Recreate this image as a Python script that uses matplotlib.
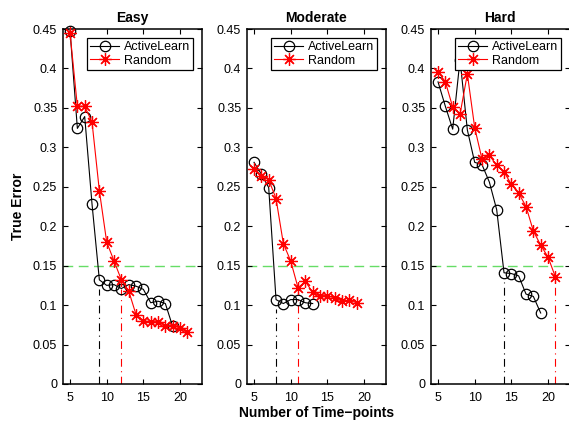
import matplotlib
matplotlib.use("Agg")
import matplotlib.pyplot as plt
import numpy as np

plt.rcParams['font.family'] = ['Liberation Sans', 'DejaVu Sans']

titles = ["Easy", "Moderate", "Hard"]

easy_active_x = [5, 6, 7, 8, 9, 10, 11, 12, 13, 14, 15, 16, 17, 18, 19]
easy_active_y = [0.448, 0.324, 0.339, 0.228, 0.132, 0.125, 0.126, 0.121, 0.126, 0.124, 0.120, 0.103, 0.105, 0.102, 0.073]
easy_random_x = [5, 6, 7, 8, 9, 10, 11, 12, 13, 14, 15, 16, 17, 18, 19, 20, 21]
easy_random_y = [0.445, 0.352, 0.352, 0.332, 0.245, 0.180, 0.156, 0.132, 0.118, 0.088, 0.080, 0.079, 0.079, 0.074, 0.074, 0.071, 0.066]

mod_active_x = [5, 6, 7, 8, 9, 10, 11, 12, 13]
mod_active_y = [0.281, 0.266, 0.249, 0.107, 0.102, 0.107, 0.107, 0.103, 0.102]
mod_random_x = [5, 6, 7, 8, 9, 10, 11, 12, 13, 14, 15, 16, 17, 18, 19]
mod_random_y = [0.273, 0.264, 0.259, 0.235, 0.178, 0.156, 0.122, 0.130, 0.116, 0.112, 0.112, 0.109, 0.105, 0.106, 0.103]

hard_active_x = [5, 6, 7, 8, 9, 10, 11, 12, 13, 14, 15, 16, 17, 18, 19]
hard_active_y = [0.383, 0.352, 0.323, 0.411, 0.322, 0.281, 0.278, 0.256, 0.221, 0.141, 0.140, 0.137, 0.114, 0.111, 0.090]
hard_random_x = [5, 6, 7, 8, 9, 10, 11, 12, 13, 14, 15, 16, 17, 18, 19, 20, 21]
hard_random_y = [0.396, 0.383, 0.351, 0.342, 0.393, 0.325, 0.285, 0.290, 0.277, 0.269, 0.253, 0.242, 0.225, 0.194, 0.176, 0.161, 0.136]

threshold = 0.15
series = [
    (easy_active_x, easy_active_y, easy_random_x, easy_random_y),
    (mod_active_x, mod_active_y, mod_random_x, mod_random_y),
    (hard_active_x, hard_active_y, hard_random_x, hard_random_y),
]
xticks = [5, 10, 15, 20]
yticks = [0, 0.05, 0.1, 0.15, 0.2, 0.25, 0.3, 0.35, 0.4, 0.45]
ytick_labels = ["0", "0.05", "0.1", "0.15", "0.2", "0.25", "0.3", "0.35", "0.4", "0.45"]

W, H = 569, 422
fig = plt.figure(figsize=(W / 100, H / 100), dpi=100)
lefts = [62.7, 246.7, 430.7]
aw = 139.3
top, bottom = 29, 384
axes = []
for i, (title, (ax_x, ax_y, rx, ry)) in enumerate(zip(titles, series)):
    ax = fig.add_axes([lefts[i] / W, (H - bottom) / H, aw / W, (bottom - top) / H])
    axes.append(ax)
    ax.axhline(threshold, color='#66dd66', lw=1.0, dashes=(7, 4), zorder=1)
    ax.plot(ax_x, ax_y, color='black', lw=0.8, marker='o', ms=7.5, mfc='none',
            mec='black', mew=0.9, label='ActiveLearn', clip_on=False, zorder=3)
    ax.plot(rx, ry, color='red', lw=0.8, marker=(8, 2, 0), ms=9, mec='red',
            mew=0.9, label='Random', clip_on=False, zorder=3)
    # vertical dash-dot lines where each series first drops below threshold
    for xs, ys, c in [(ax_x, ax_y, 'black'), (rx, ry, 'red')]:
        idx = next(k for k, v in enumerate(ys) if v < threshold)
        ax.plot([xs[idx], xs[idx]], [0, ys[idx] - 0.012], color=c, lw=0.8,
                dashes=(7, 4, 1, 4), zorder=2)
    ax.set_xlim(4, 23)
    ax.set_ylim(0, 0.45)
    ax.set_xticks(xticks)
    ax.set_yticks(yticks)
    ax.set_yticklabels(ytick_labels)
    ax.tick_params(direction='in', length=3.5, width=0.8, top=True, right=True,
                   labelsize=9, colors='black')
    ax.tick_params(axis='x', pad=6)
    ax.tick_params(axis='y', pad=4)
    for s in ax.spines.values():
        s.set_linewidth(1.1)
    ax.set_title(title, fontsize=10, fontweight='bold', pad=5)
    leg = ax.legend(loc='upper right', fontsize=9, frameon=True, fancybox=False,
                    edgecolor='black', framealpha=1, borderaxespad=0.7,
                    handlelength=2.3, handletextpad=0.4, borderpad=0.25,
                    labelspacing=0.15)
    leg.get_frame().set_linewidth(0.9)
    leg.set_zorder(5)

axes[0].set_ylabel("True Error", fontsize=10, fontweight='bold', labelpad=6)
axes[1].set_xlabel("Number of Time\u2212points", fontsize=10, fontweight='bold', labelpad=1)

fig.savefig("out.png", dpi=100)
